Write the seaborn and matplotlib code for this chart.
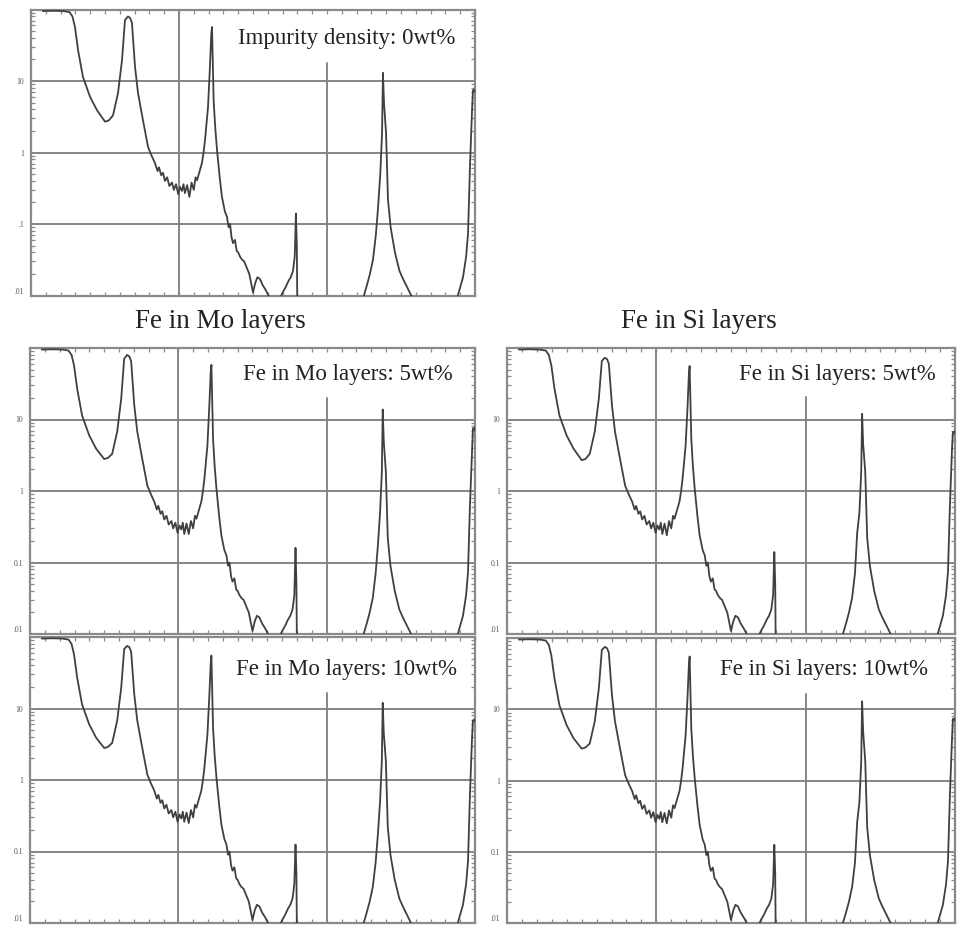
import matplotlib
matplotlib.use("Agg")
import numpy as np
import pandas as pd
import seaborn as sns
import matplotlib.pyplot as plt
from matplotlib.ticker import LogLocator, MultipleLocator, FixedLocator, NullFormatter

# ---------------- data ----------------
angle = [
    0.08, 0.15, 0.22, 0.26, 0.28, 0.297, 0.318, 0.351, 0.399, 0.446,
    0.50, 0.525, 0.554, 0.588, 0.615, 0.635, 0.655, 0.67, 0.682, 0.703,
    0.723, 0.757, 0.791, 0.815, 0.838, 0.855, 0.865, 0.88, 0.892, 0.905,
    0.92, 0.935, 0.953, 0.965, 0.98, 0.995, 1.007, 1.02, 1.03, 1.04,
    1.055, 1.07, 1.085, 1.10, 1.112, 1.122, 1.14, 1.155, 1.166, 1.176,
    1.186, 1.196, 1.209, 1.218, 1.223, 1.228, 1.234, 1.245, 1.257, 1.275,
    1.29, 1.30, 1.31, 1.324, 1.335, 1.345, 1.355, 1.365, 1.378, 1.39,
    1.40, 1.412, 1.425, 1.44, 1.459, 1.475, 1.49, 1.50, 1.515, 1.53,
    1.547, 1.565, 1.585, 1.60, 1.615, 1.635, 1.655, 1.682, 1.70, 1.72,
    1.74, 1.755, 1.77, 1.782, 1.79, 1.796, 1.80, 2.20, 2.243, 2.27,
    2.29, 2.311, 2.33, 2.345, 2.36, 2.372, 2.378, 2.385, 2.399, 2.412,
    2.43, 2.459, 2.49, 2.514, 2.55, 2.58, 2.62, 2.80, 2.878, 2.919,
    2.94, 2.953, 2.966, 2.975, 2.98, 2.986, 2.995, 3.0,
]

refl_0wt = [
    95, 96, 95, 92, 80, 57, 27, 11.4, 6.0, 3.9,
    2.7, 2.8, 3.3, 6.8, 19.6, 71, 80, 76, 65, 15.7,
    6.8, 2.8, 1.19, 0.9, 0.71, 0.55, 0.62, 0.48, 0.52, 0.40,
    0.45, 0.34, 0.38, 0.30, 0.36, 0.26, 0.33, 0.29, 0.36, 0.27,
    0.35, 0.24, 0.38, 0.30, 0.45, 0.41, 0.55, 0.71, 1.0, 1.5,
    2.5, 4.3, 15.7, 45, 57, 20, 5.4, 2.2, 1.08, 0.45,
    0.24, 0.19, 0.15, 0.126, 0.09, 0.1, 0.065, 0.054, 0.06, 0.042,
    0.04, 0.035, 0.032, 0.03, 0.024, 0.02, 0.014, 0.011, 0.015, 0.018,
    0.017, 0.014, 0.012, 0.0105, 0.009, 0.0095, 0.0085, 0.009, 0.011, 0.013,
    0.016, 0.018, 0.022, 0.035, 0.14, 0.05, 0.005, 0.004, 0.009, 0.014,
    0.02, 0.032, 0.07, 0.17, 0.5, 1.86, 13, 5, 1.86, 0.22,
    0.09, 0.04, 0.022, 0.017, 0.012, 0.009, 0.005, 0.004, 0.009, 0.018,
    0.035, 0.074, 0.63, 2.0, 3.9, 7.4, 7.6, 7.0,
]

refl_mo5 = [
    95, 96, 95, 92, 80, 57, 27, 11.4, 6.0, 3.9,
    2.8, 2.9, 3.3, 6.8, 19.6, 71, 80, 76, 65, 15.7,
    6.8, 2.8, 1.19, 0.9, 0.71, 0.55, 0.62, 0.48, 0.52, 0.40,
    0.45, 0.34, 0.38, 0.30, 0.36, 0.26, 0.33, 0.29, 0.36, 0.25,
    0.35, 0.25, 0.38, 0.30, 0.45, 0.41, 0.55, 0.71, 1.0, 1.5,
    2.5, 4.3, 15.7, 45, 58, 20, 5.4, 2.2, 1.08, 0.45,
    0.24, 0.19, 0.15, 0.126, 0.09, 0.1, 0.065, 0.054, 0.06, 0.042,
    0.04, 0.035, 0.032, 0.03, 0.024, 0.02, 0.014, 0.011, 0.015, 0.018,
    0.017, 0.014, 0.012, 0.0105, 0.009, 0.0095, 0.0085, 0.009, 0.011, 0.013,
    0.016, 0.018, 0.022, 0.035, 0.16, 0.05, 0.005, 0.004, 0.009, 0.014,
    0.02, 0.032, 0.07, 0.17, 0.5, 1.86, 13.8, 4.9, 1.86, 0.22,
    0.09, 0.04, 0.022, 0.017, 0.012, 0.009, 0.005, 0.004, 0.009, 0.018,
    0.035, 0.074, 0.63, 2.0, 3.9, 7.5, 7.6, 7.0,
]

refl_mo10 = [
    95, 96, 95, 92, 80, 57, 27, 11.4, 6.0, 3.9,
    2.8, 2.9, 3.3, 6.8, 19.6, 68, 75, 72, 62, 15.7,
    6.8, 2.8, 1.19, 0.9, 0.71, 0.55, 0.62, 0.48, 0.52, 0.40,
    0.45, 0.34, 0.38, 0.30, 0.36, 0.26, 0.33, 0.29, 0.36, 0.26,
    0.35, 0.25, 0.38, 0.30, 0.45, 0.41, 0.55, 0.71, 1.0, 1.5,
    2.5, 4.3, 15.0, 42, 55, 20, 5.4, 2.2, 1.08, 0.45,
    0.24, 0.19, 0.15, 0.126, 0.09, 0.1, 0.065, 0.054, 0.06, 0.042,
    0.04, 0.035, 0.032, 0.03, 0.024, 0.02, 0.014, 0.011, 0.015, 0.018,
    0.017, 0.014, 0.012, 0.0105, 0.009, 0.0095, 0.0085, 0.009, 0.011, 0.013,
    0.016, 0.018, 0.022, 0.035, 0.125, 0.05, 0.005, 0.004, 0.009, 0.014,
    0.02, 0.032, 0.07, 0.17, 0.5, 1.86, 12, 4.5, 1.86, 0.22,
    0.09, 0.04, 0.022, 0.017, 0.012, 0.009, 0.005, 0.004, 0.009, 0.018,
    0.035, 0.074, 0.63, 2.0, 3.9, 6.8, 7.0, 6.5,
]

refl_si5 = [
    95, 96, 95, 92, 80, 57, 27, 11.4, 6.0, 3.9,
    2.7, 2.8, 3.3, 6.8, 19.6, 66, 73, 70, 60, 15.7,
    6.8, 2.8, 1.19, 0.9, 0.71, 0.55, 0.62, 0.48, 0.52, 0.40,
    0.45, 0.34, 0.38, 0.30, 0.36, 0.26, 0.33, 0.29, 0.36, 0.25,
    0.35, 0.24, 0.38, 0.30, 0.45, 0.41, 0.55, 0.71, 1.0, 1.5,
    2.5, 4.3, 15.0, 44, 56, 20, 5.4, 2.2, 1.08, 0.45,
    0.24, 0.19, 0.15, 0.126, 0.09, 0.1, 0.065, 0.054, 0.06, 0.042,
    0.04, 0.035, 0.032, 0.03, 0.024, 0.02, 0.014, 0.011, 0.015, 0.018,
    0.017, 0.014, 0.012, 0.0105, 0.009, 0.0095, 0.0085, 0.009, 0.011, 0.013,
    0.016, 0.018, 0.022, 0.035, 0.14, 0.05, 0.005, 0.004, 0.009, 0.014,
    0.02, 0.032, 0.07, 0.26, 0.5, 1.86, 12, 4.5, 1.86, 0.22,
    0.09, 0.04, 0.022, 0.017, 0.012, 0.009, 0.005, 0.004, 0.009, 0.018,
    0.035, 0.074, 0.63, 2.0, 3.9, 6.6, 6.8, 6.3,
]

refl_si10 = [
    95, 96, 95, 92, 80, 57, 27, 11.4, 6.0, 3.9,
    2.8, 2.9, 3.3, 6.8, 19.6, 68, 75, 72, 62, 15.7,
    6.8, 2.8, 1.19, 0.9, 0.71, 0.55, 0.62, 0.48, 0.52, 0.40,
    0.45, 0.34, 0.38, 0.30, 0.36, 0.26, 0.33, 0.29, 0.36, 0.26,
    0.35, 0.25, 0.38, 0.30, 0.45, 0.41, 0.55, 0.71, 1.0, 1.5,
    2.5, 4.3, 15.0, 42, 55, 20, 5.4, 2.2, 1.08, 0.45,
    0.24, 0.19, 0.15, 0.126, 0.09, 0.1, 0.065, 0.054, 0.06, 0.042,
    0.04, 0.035, 0.032, 0.03, 0.024, 0.02, 0.014, 0.011, 0.015, 0.018,
    0.017, 0.014, 0.012, 0.0105, 0.009, 0.0095, 0.0085, 0.009, 0.011, 0.013,
    0.016, 0.018, 0.022, 0.035, 0.125, 0.05, 0.005, 0.004, 0.009, 0.014,
    0.02, 0.032, 0.07, 0.26, 0.5, 1.86, 12.9, 4.8, 1.86, 0.22,
    0.09, 0.04, 0.022, 0.017, 0.012, 0.009, 0.005, 0.004, 0.009, 0.018,
    0.035, 0.074, 0.63, 2.0, 3.9, 7.3, 7.4, 6.9,
]

ytick_values = [0.01, 0.1, 1, 10]
ytick_labels_top = [".01", ".1", "1", "10"]
ytick_labels_rest = [".01", "0.1", "1", "10"]

column_titles = ["Fe in Mo layers", "Fe in Si layers"]
panel_labels = [
    "Impurity density: 0wt%",
    "Fe in Mo layers: 5wt%",
    "Fe in Mo layers: 10wt%",
    "Fe in Si layers: 5wt%",
    "Fe in Si layers: 10wt%",
]

# ---------------- style ----------------
sns.set_theme(style="white")
plt.rcParams["font.family"] = ["Liberation Serif", "DejaVu Serif"]

W, H = 957, 926
fig = plt.figure(figsize=(W / 100, H / 100), dpi=100)


def px_rect(left, top, right, bottom):
    return [left / W, 1 - bottom / H, (right - left) / W, (bottom - top) / H]


SPINE = "#8a8a8a"
GRID = "#858585"
LINE = "#404040"

specs = [
    # rect, data, label, (tx, ty), partial grid ymax, tick labels
    (px_rect(31, 9.5, 475, 295.5), refl_0wt, panel_labels[0], (0.955, 0.90), 0.813, ytick_labels_top),
    (px_rect(30, 348, 475, 634), refl_mo5, panel_labels[1], (0.951, 0.909), 0.825, ytick_labels_rest),
    (px_rect(30, 637, 475, 923), refl_mo10, panel_labels[2], (0.960, 0.885), 0.805, ytick_labels_rest),
    (px_rect(507, 348, 955, 634), refl_si5, panel_labels[3], (0.958, 0.909), 0.83, ytick_labels_rest),
    (px_rect(507, 638, 955, 923), refl_si10, panel_labels[4], (0.940, 0.888), 0.805, ytick_labels_rest),
]

for rect, yvals, label, (tx, ty), gmax, tlabels in specs:
    ax = fig.add_axes(rect)
    df = pd.DataFrame({"angle": angle, "R": yvals})
    ax.set_yscale("log")
    ax.set_xlim(0, 3)
    ax.set_ylim(0.01, 100)

    for yv in [0.1, 1, 10]:
        ax.axhline(yv, color=GRID, lw=1.4, zorder=1)
    ax.axvline(1, color=GRID, lw=1.4, zorder=1)
    ax.axvline(2, ymin=0, ymax=gmax, color=GRID, lw=1.4, zorder=1)

    sns.lineplot(data=df, x="angle", y="R", ax=ax, color=LINE, lw=1.3,
                 estimator=None, sort=False, zorder=3)

    ax.set_xlabel("")
    ax.set_ylabel("")

    # ticks
    ax.xaxis.set_major_locator(FixedLocator([]))
    ax.xaxis.set_minor_locator(MultipleLocator(0.1))
    ax.xaxis.set_minor_formatter(NullFormatter())
    ax.set_yticks(ytick_values, labels=tlabels)
    ax.yaxis.set_minor_locator(LogLocator(base=10, subs=np.arange(2, 10)))
    ax.yaxis.set_minor_formatter(NullFormatter())
    ax.tick_params(axis="y", which="major", length=0, pad=5, labelsize=5.5, labelcolor="#555555")
    ax.tick_params(axis="both", which="minor", direction="in", length=3, width=0.9,
                   color=SPINE, top=True, bottom=True, left=True, right=True)
    ax.tick_params(axis="x", which="major", length=0, labelbottom=False)
    ax.get_yticklabels()[0].set_verticalalignment("bottom")

    for s in ax.spines.values():
        s.set_color(SPINE)
        s.set_linewidth(1.6)
        s.set_visible(True)

    ax.text(tx, ty, label, transform=ax.transAxes, ha="right", va="center",
            fontsize=16.5, color="#222222", zorder=5)

fig.text(220 / W, 1 - 322 / H, column_titles[0], ha="center", va="center",
         fontsize=19.5, color="#222222")
fig.text(699 / W, 1 - 322 / H, column_titles[1], ha="center", va="center",
         fontsize=19.5, color="#222222")

fig.savefig("out.png", dpi=100, facecolor="white")
